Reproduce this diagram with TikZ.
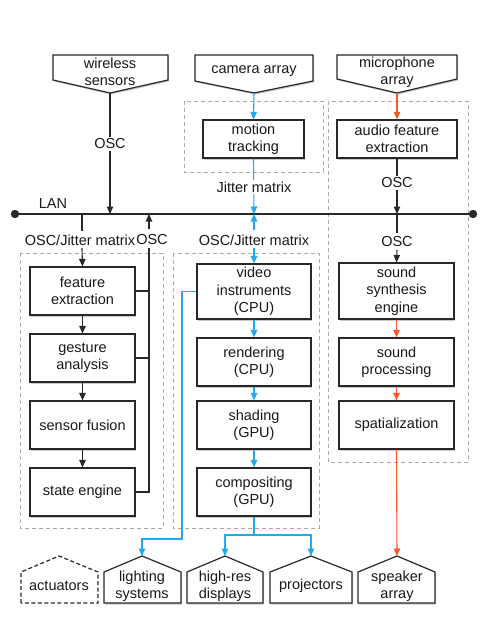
\documentclass[tikz,border=0pt]{standalone}
\usepackage{fontspec}
\setmainfont{Liberation Sans}
\usetikzlibrary{arrows.meta,shadows}
\definecolor{cblue}{RGB}{30,170,240}
\definecolor{corange}{RGB}{250,90,40}
\definecolor{cgray}{RGB}{170,170,170}
\definecolor{cdark}{RGB}{40,40,40}
\begin{document}
\begin{tikzpicture}[x=1pt,y=-1pt,
  every node/.style={font=\fontsize{14.5}{17.5}\selectfont, align=center, inner sep=0pt, text=black!90},
  shad/.style={drop shadow={shadow xshift=1.2pt, shadow yshift=-1.5pt, fill=black!45, opacity=0.45}},
  box/.style={draw=cdark, line width=1.2pt, fill=white, shad},
  shapeline/.style={draw=cdark, line width=1.2pt, fill=white, shad},
  grp/.style={draw=cgray, line width=1pt, dash pattern=on 4pt off 3pt},
  conn/.style={line width=1.1pt, draw=cdark},
  arr/.style={conn, -{Triangle[length=7.5pt,width=6.5pt]}},
  barr/.style={arr, draw=cblue},
  oarr/.style={arr, draw=corange},
  lbl/.style={fill=white, inner sep=2pt},
]
\useasboundingbox (0,0) rectangle (480,640);

% group boxes
\draw[grp] (184,101) rectangle (323,172);
\draw[grp] (328,101) rectangle (468,462);
\draw[grp] (20,253) rectangle (163,528);
\draw[grp] (173,253) rectangle (319,528);

% top input shapes
\path[shapeline] (53,55) -- (168,55) -- (168,80) -- (110,93) -- (53,80) -- cycle;
\node (ws) at (110,72) {wireless\\sensors};
\coordinate (wsP) at (110,93);
\path[shapeline] (195,55) -- (313,55) -- (313,81) -- (254,93) -- (195,81) -- cycle;
\node (ca) at (254,71) {camera array};
\coordinate (caP) at (254,93);
\path[shapeline] (337,55) -- (457,55) -- (457,79) -- (397,93) -- (337,79) -- cycle;
\node (ma) at (397,72) {microphone\\array};
\coordinate (maP) at (397,93);

% boxes
\node[box, minimum width=101pt, minimum height=38pt] (mt) at (253.5,139) {motion\\tracking};
\node[box, minimum width=120pt, minimum height=38pt] (af) at (397,139) {audio feature\\extraction};

\node[box, minimum width=105pt, minimum height=48pt] (fe) at (82.5,291) {feature\\extraction};
\node[box, minimum width=105pt, minimum height=48pt] (ga) at (82.5,358) {gesture\\analysis};
\node[box, minimum width=105pt, minimum height=48pt] (sf) at (82.5,425) {sensor fusion};
\node[box, minimum width=105pt, minimum height=48pt] (se) at (82.5,492) {state engine};

\node[box, minimum width=114pt, minimum height=55pt] (vi) at (254,291.5) {video\\instruments\\(CPU)};
\node[box, minimum width=114pt, minimum height=48pt] (re) at (254,362) {rendering\\(CPU)};
\node[box, minimum width=114pt, minimum height=48pt] (sh) at (254,425) {shading\\(GPU)};
\node[box, minimum width=114pt, minimum height=48pt] (cp) at (254,492) {compositing\\(GPU)};

\node[box, minimum width=115pt, minimum height=56pt] (ss) at (396.5,291) {sound\\synthesis\\engine};
\node[box, minimum width=115pt, minimum height=48pt] (spr) at (396.5,362) {sound\\processing};
\node[box, minimum width=115pt, minimum height=48pt] (spa) at (396.5,425) {spatialization};

% bottom output shapes
\draw[draw=cdark, line width=1.2pt, dash pattern=on 4pt off 2.5pt] (21,603) -- (21,572) -- (59,556) -- (98,572) -- (98,603) -- cycle;
\node (ac) at (59,586) {actuators};
\path[shapeline] (104,603) -- (104,572) -- (142,556) -- (181,572) -- (181,603) -- cycle;
\node (ls) at (142,586) {lighting\\systems};
\coordinate (lsT) at (142,556);
\path[shapeline] (187,603) -- (187,572) -- (225,556) -- (263,572) -- (263,603) -- cycle;
\node (hr) at (225,586) {high-res\\displays};
\coordinate (hrT) at (225,556);
\path[shapeline] (270,603) -- (270,572) -- (311,556) -- (352,572) -- (352,603) -- cycle;
\node (pr) at (311,586) {projectors};
\coordinate (prT) at (311,556);
\path[shapeline] (358,603) -- (358,572) -- (397,556) -- (435,572) -- (435,603) -- cycle;
\node (sa) at (397,586) {speaker\\array};
\coordinate (saT) at (397,556);

% LAN
\coordinate (lanL) at (15,214);
\coordinate (lanR) at (473,214);
\draw[conn] (lanL) -- (lanR);
\fill[cdark] (lanL) circle (4.2pt);
\fill[cdark] (lanR) circle (4.2pt);
\node (lan) at (53,204) {LAN};
\coordinate (lanWS) at (110,214);
\coordinate (lanMT) at (254,214);
\coordinate (lanAF) at (397,214);
\coordinate (lanFE) at (82,214);
\coordinate (lanOSC) at (149,214);

% top connectors
\draw[arr] (wsP) -- (lanWS);
\node[lbl] (oscws) at (110,144) {OSC};
\draw[barr] (caP) -- (mt.north);
\draw[barr] (mt.south) -- (lanMT);
\node[lbl] (jm) at (254,187) {Jitter matrix};
\draw[oarr] (maP) -- (af.north);
\draw[arr] (af.south) -- (lanAF);
\node[lbl] (oscaf) at (397,183) {OSC};

% below LAN labels
\node (ojl) at (80,240) {OSC/Jitter matrix};
\node (oscl) at (152,240) {OSC};
\node (ojm) at (254,240) {OSC/Jitter matrix};
\node (oscr) at (397,242) {OSC};

% left column
\draw[conn] (lanFE) -- (82,231);
\draw[arr] (82,248) -- (fe.north);
\draw[arr] (fe.south) -- (ga.north);
\draw[arr] (ga.south) -- (sf.north);
\draw[arr] (sf.south) -- (se.north);
\coordinate (oscB) at (149,248);
\draw[arr] (149,229) -- (lanOSC);
\draw[conn] (oscB) -- (149,492) -- (se.east);
\draw[conn] (fe.east) -- (149,291);
\draw[conn] (ga.east) -- (149,358);

% middle column
\draw[barr] (254,230) -- (lanMT);
\draw[barr] (254,248) -- (vi.north);
\draw[barr] (vi.south) -- (re.north);
\draw[barr] (re.south) -- (sh.north);
\draw[barr] (sh.south) -- (cp.north);
\coordinate (j1) at (182,539);
\draw[barr] (vi.west) -| (j1) -| (lsT);
\coordinate (j2) at (254,535);
\draw[conn, draw=cblue] (cp.south) -- (j2);
\draw[barr] (j2) -| (hrT);
\draw[barr] (j2) -| (prT);

% right column
\draw[conn] (lanAF) -- (397,233);
\draw[arr] (397,250) -- (ss.north);
\draw[oarr] (ss.south) -- (spr.north);
\draw[oarr] (spr.south) -- (spa.north);
\draw[oarr] (spa.south) -- (saT);
\end{tikzpicture}
\end{document}
